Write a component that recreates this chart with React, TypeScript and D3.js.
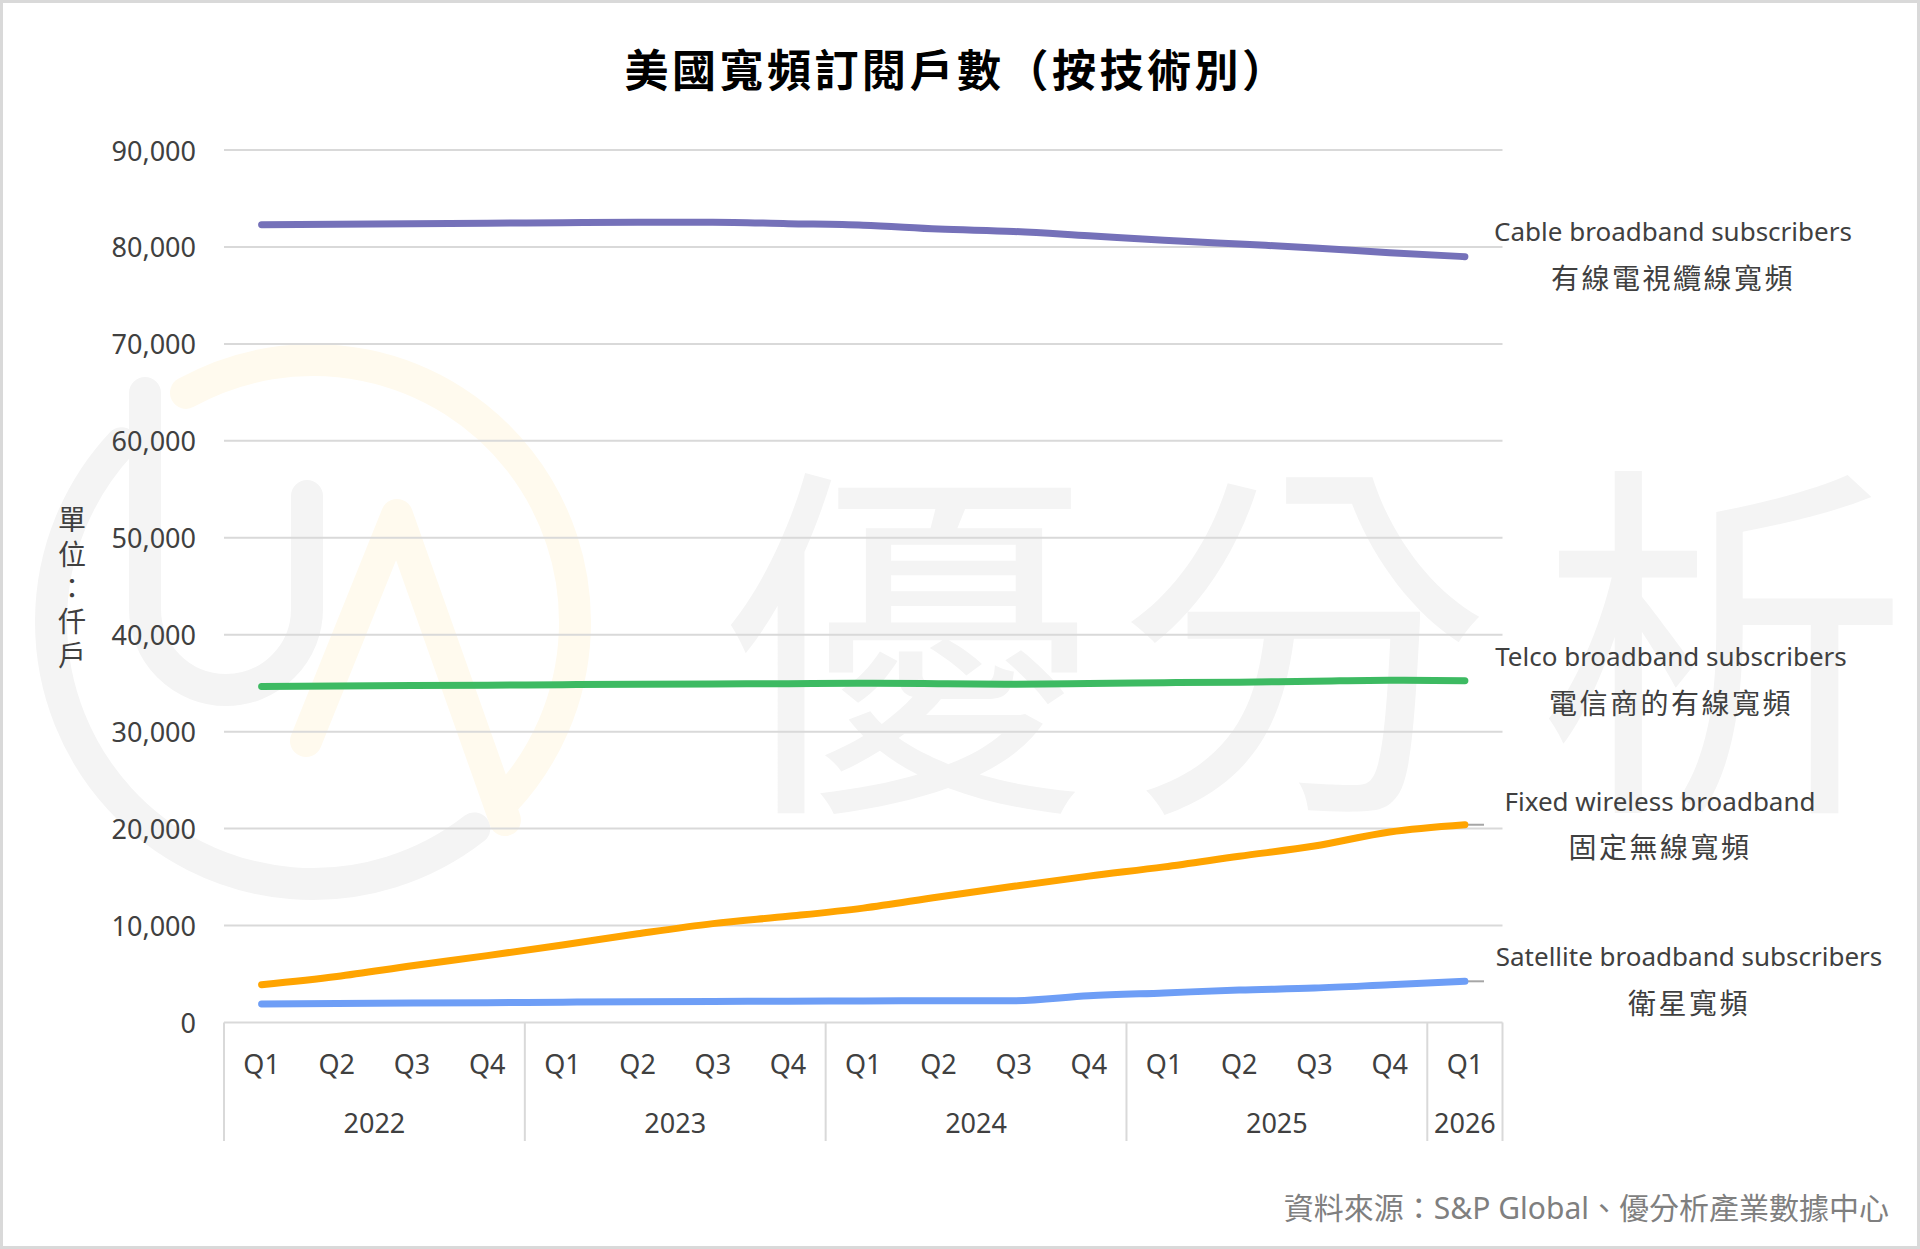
import React from "react";
import * as d3 from "d3";

const quarters = ["Q1","Q2","Q3","Q4","Q1","Q2","Q3","Q4","Q1","Q2","Q3","Q4","Q1","Q2","Q3","Q4","Q1"];
const years = ["2022","2023","2024","2025","2026"];
const yearQuarterCounts = [4, 4, 4, 4, 1];
const yTicks = [0,10000,20000,30000,40000,50000,60000,70000,80000,90000];

const cable = [82300,82350,82400,82450,82500,82550,82550,82400,82250,81850,81600,81150,80700,80300,79900,79400,79000];
const telco = [34650,34700,34750,34800,34850,34900,34920,34950,35000,34950,34900,34970,35050,35100,35200,35300,35250];
const fixedWireless = [3900,4750,5850,6900,8000,9150,10200,10950,11800,12950,14050,15100,16050,17150,18200,19650,20400];
const satellite = [1900,1950,2000,2050,2100,2150,2170,2200,2230,2240,2250,2750,3050,3350,3550,3900,4250];

const seriesNames = ["Cable broadband subscribers","Telco broadband subscribers","Fixed wireless broadband","Satellite broadband subscribers"];
const seriesNamesZh = ["有線電視纜線寬頻","電信商的有線寬頻","固定無線寬頻","衛星寬頻"];

const W = 1920, H = 1249;
const FONT = "'Noto Sans', 'Noto Sans CJK TC', sans-serif";
const CJK = "'Noto Sans CJK TC', 'Noto Sans', sans-serif";

export default function App() {
  const idx = quarters.map((_, i) => i);
  const x = d3.scaleBand<number>().domain(idx).range([224, 1502.5]).padding(0);
  const y = d3.scaleLinear().domain([0, 90000]).range([1022.5, 150]);
  const cx = (i: number) => (x(i) as number) + x.bandwidth() / 2;

  const line = d3.line<number>().x((_, i) => cx(i)).y(d => y(d)).curve(d3.curveMonotoneX);

  const series = [
    { data: cable, color: "#7571b9", leader: false, lx: 1673, ly: [231, 277] },
    { data: telco, color: "#3dba62", leader: false, lx: 1671, ly: [656, 702] },
    { data: fixedWireless, color: "#ffa400", leader: true, lx: 1660, ly: [801, 846] },
    { data: satellite, color: "#6e9ef6", leader: true, lx: 1689, ly: [956, 1002] },
  ];

  const boundaries: number[] = [0];
  yearQuarterCounts.reduce((acc, c) => { boundaries.push(acc + c); return acc + c; }, 0);
  const bx = (k: number) => (k >= quarters.length ? 1502.5 : (x(k) as number));

  const yAxisTitle = ["單", "位", "：", "仟", "戶"];
  const yAxisTitleY = [518, 553, 587, 620, 654];

  const wmCenter = [313, 622];
  const wmR = 262;
  const arc = (a0: number, a1: number) => {
    const r0 = (a0 * Math.PI) / 180, r1 = (a1 * Math.PI) / 180;
    const p0 = [wmCenter[0] + wmR * Math.cos(r0), wmCenter[1] + wmR * Math.sin(r0)];
    const p1 = [wmCenter[0] + wmR * Math.cos(r1), wmCenter[1] + wmR * Math.sin(r1)];
    const large = a1 - a0 > 180 ? 1 : 0;
    return `M${p0[0]},${p0[1]} A${wmR},${wmR} 0 ${large} 1 ${p1[0]},${p1[1]}`;
  };

  return (
    <div style={{ position: "absolute", left: 0, top: 0 }}>
      <svg width={W} height={H} viewBox={`0 0 ${W} ${H}`} style={{ display: "block" }}>
        <rect x={0} y={0} width={W} height={H} fill="#ffffff" />
        <rect x={1.5} y={1.5} width={W - 3} height={H - 3} fill="none" stroke="#d9d9d9" strokeWidth={3} />

        {/* watermark */}
        <g strokeLinecap="round" fill="none" strokeWidth={32}>
          <path d={arc(52, 223)} stroke="#f4f4f4" />
          <path d={arc(-119, 43)} stroke="#fffaee" />
          <path d="M145,393 L145,609 A81,81 0 0 0 307,609 L307,496" stroke="#f4f4f4" />
          <path d="M306,741 L397,515 L505,820" stroke="#fffaee" strokeLinejoin="round" />
        </g>
        <g fontFamily={CJK} fontWeight={400} fontSize={372} fill="#f4f4f4" textAnchor="middle" dominantBaseline="central">
          <text x={906} y={621}>優</text>
          <text x={1304} y={621}>分</text>
          <text x={1723} y={621}>析</text>
        </g>

        {/* title */}
        <text x={957} y={68} textAnchor="middle" dominantBaseline="central" fontFamily={CJK} fontWeight={700} fontSize={44} letterSpacing={3.5} fill="#000">
          美國寬頻訂閱戶數（按技術別）
        </text>

        {/* gridlines */}
        {yTicks.map(t => (
          <line key={t} x1={224} x2={1502.5} y1={y(t)} y2={y(t)} stroke="#d9d9d9" strokeWidth={2} />
        ))}
        {yTicks.map(t => (
          <text key={"l" + t} x={196} y={y(t)} textAnchor="end" dominantBaseline="central" fontFamily={FONT} fontSize={27} fill="#404040">
            {d3.format(",")(t)}
          </text>
        ))}

        {yAxisTitle.map((c, i) => (
          <text key={c + i} x={72} y={yAxisTitleY[i]} textAnchor="middle" dominantBaseline="central" fontFamily={CJK} fontSize={28} fill="#404040">
            {c}
          </text>
        ))}

        {boundaries.map(k => (
          <line key={"b" + k} x1={bx(k)} x2={bx(k)} y1={1022.5} y2={1141} stroke="#d9d9d9" strokeWidth={2} />
        ))}
        {quarters.map((q, i) => (
          <text key={"q" + i} x={cx(i)} y={1063} textAnchor="middle" dominantBaseline="central" fontFamily={FONT} fontSize={27} fill="#404040">
            {q}
          </text>
        ))}
        {years.map((yr, j) => (
          <text key={yr} x={(bx(boundaries[j]) + bx(boundaries[j + 1])) / 2} y={1122} textAnchor="middle" dominantBaseline="central" fontFamily={FONT} fontSize={27} fill="#404040">
            {yr}
          </text>
        ))}

        {series.filter(s => s.leader).map((s, i) => {
          const last = s.data.length - 1;
          return <line key={"ld" + i} x1={cx(last)} x2={1484} y1={y(s.data[last])} y2={y(s.data[last])} stroke="#a6a6a6" strokeWidth={2} />;
        })}

        {series.map((s, i) => (
          <path key={"s" + i} d={line(s.data) || ""} fill="none" stroke={s.color} strokeWidth={7} strokeLinecap="round" strokeLinejoin="round" />
        ))}

        {series.map((s, i) => (
          <g key={"lab" + i} textAnchor="middle" dominantBaseline="central" fill="#404040">
            <text x={s.lx} y={s.ly[0]} fontFamily={FONT} fontSize={26}>{seriesNames[i]}</text>
            <text x={s.lx} y={s.ly[1]} fontFamily={CJK} fontSize={28} letterSpacing={2.5}>{seriesNamesZh[i]}</text>
          </g>
        ))}

        <text x={1889} y={1207} textAnchor="end" dominantBaseline="central" fontFamily={FONT} fontSize={30} fill="#7f7f7f">
          資料來源：S&amp;P Global、優分析產業數據中心
        </text>
      </svg>
    </div>
  );
}
